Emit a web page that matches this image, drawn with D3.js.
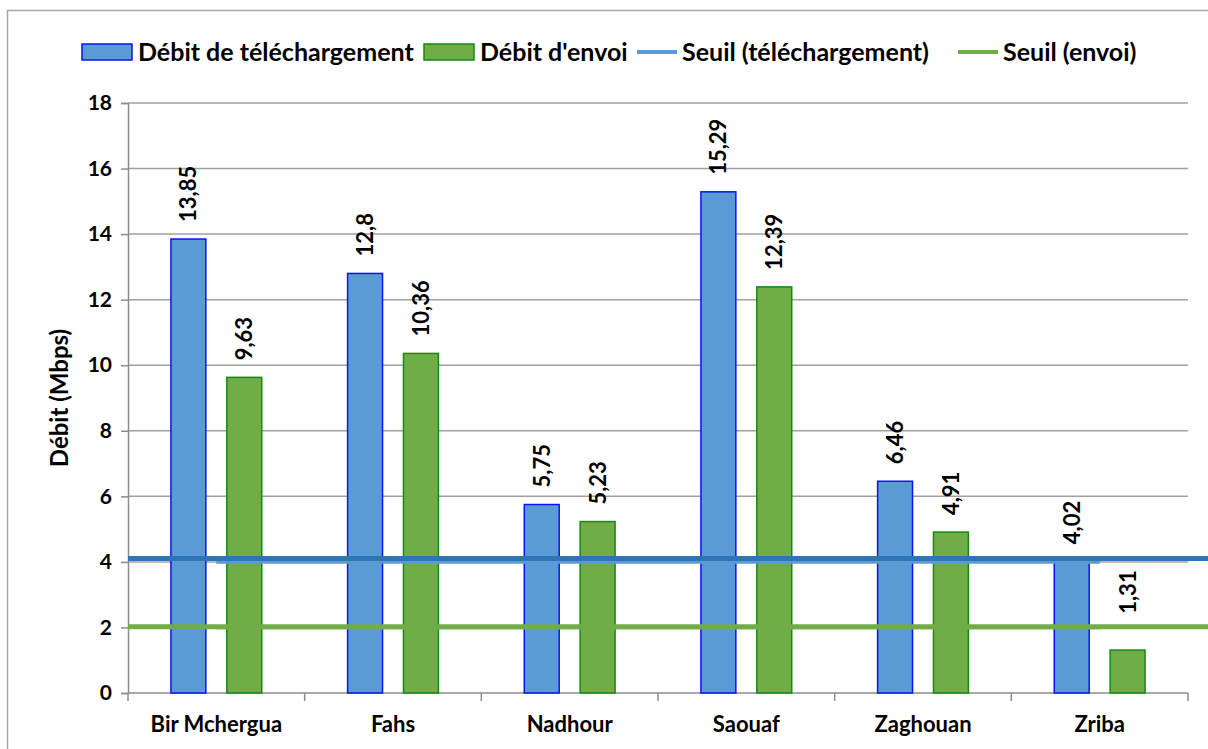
<!DOCTYPE html>
<meta charset="utf-8">
<script src="https://d3js.org/d3.v7.min.js"></script>
<style>
body { margin: 0; background: #fff; }
text { font-family: Lato, "Open Sans", sans-serif; font-weight: bold; fill: #000; }
</style>
<body>
<div id="chart"></div>
<script>
var sites = ["Bir Mchergua", "Fahs", "Nadhour", "Saouaf", "Zaghouan", "Zriba"]
var download = [13.85, 12.8, 5.75, 15.29, 6.46, 4.02]
var upload = [9.63, 10.36, 5.23, 12.39, 4.91, 1.31]
var seuilDl = [4, 4, 4, 4, 4, 4]
var seuilUp = [2, 2, 2, 2, 2, 2]
// the two bold threshold bars drawn over the chart, full width
var seuilOverlay = [4.1, 2.02]
var yTicks = [0, 2, 4, 6, 8, 10, 12, 14, 16, 18]
var legendLabels = ["Débit de téléchargement", "Débit d'envoi", "Seuil (téléchargement)", "Seuil (envoi)"]

var W = 1208, H = 749
var plotL = 128, plotR = 1188, plotT = 103, plotB = 693

var blue = "#5B9BD5", blueEdge = "#0A14F0", green = "#70AD47", greenEdge = "#138A13"
var darkBlue = "#2E75B6"

var svg = d3.select("#chart").append("svg")
  .attr("width", W)
  .attr("height", H)

// chart frame
svg.append("rect")
  .attr("x", 7.5).attr("y", 10.5)
  .attr("width", 1230).attr("height", 760)
  .attr("fill", "none")
  .attr("stroke", "#a6a6a6")
  .attr("stroke-width", 1.5)

var x = d3.scaleBand().domain(sites).range([plotL, plotR])
var xSub = d3.scaleBand().domain(["dl", "ul"]).range([0, x.bandwidth()])
  .paddingInner(0.375).paddingOuter(0.768)
var y = d3.scaleLinear().domain([0, 18]).range([plotB, plotT])

// gridlines
svg.append("g")
  .selectAll("line")
  .data(yTicks.filter(function(d){return d > 0}))
  .enter().append("line")
  .attr("x1", plotL).attr("x2", plotR)
  .attr("y1", function(d){return y(d)}).attr("y2", function(d){return y(d)})
  .attr("stroke", "#a0a0a0")
  .attr("stroke-width", 1.5)

// y axis
var yAxis = d3.axisLeft(y).tickValues(yTicks).tickSize(7).tickPadding(9)
var yG = svg.append("g")
  .attr("transform", "translate(" + plotL + ",0)")
  .call(yAxis)
yG.select(".domain").attr("stroke", "#8c8c8c").attr("stroke-width", 1.5)
yG.selectAll(".tick line").attr("stroke", "#8c8c8c").attr("stroke-width", 1.5)
yG.selectAll("text").style("font-size", "21px").style("font-weight", "bold").attr("fill", "#000")
  .style("font-family", "Lato, sans-serif")

// x axis
var xG = svg.append("g")
  .attr("transform", "translate(0," + plotB + ")")
xG.append("line")
  .attr("x1", plotL).attr("x2", plotR)
  .attr("stroke", "#8c8c8c").attr("stroke-width", 1.5)
xG.selectAll(".xt")
  .data(sites.concat(["end"]))
  .enter().append("line")
  .attr("x1", function(d, i){return plotL + i * x.step()})
  .attr("x2", function(d, i){return plotL + i * x.step()})
  .attr("y1", 0).attr("y2", 8)
  .attr("stroke", "#8c8c8c").attr("stroke-width", 1.5)
xG.selectAll(".xl")
  .data(sites)
  .enter().append("text")
  .attr("x", function(d){return x(d) + x.bandwidth() / 2})
  .attr("y", 39)
  .attr("text-anchor", "middle")
  .style("font-size", "22px")
  .text(function(d){return d})

// y title
svg.append("text")
  .attr("transform", "translate(68," + ((plotT + plotB) / 2) + ") rotate(-90)")
  .attr("text-anchor", "middle")
  .style("font-size", "24px")
  .text("Débit (Mbps)")

// bars
var rows = sites.map(function(s, i){
  return {site: s, dl: download[i], ul: upload[i]}
})
var groups = svg.append("g").selectAll("g")
  .data(rows)
  .enter().append("g")
  .attr("transform", function(d){return "translate(" + x(d.site) + ",0)"})

groups.append("rect")
  .attr("x", xSub("dl"))
  .attr("width", xSub.bandwidth())
  .attr("y", function(d){return y(d.dl)})
  .attr("height", function(d){return plotB - y(d.dl)})
  .attr("fill", blue).attr("stroke", blueEdge).attr("stroke-width", 1.5)

groups.append("rect")
  .attr("x", xSub("ul"))
  .attr("width", xSub.bandwidth())
  .attr("y", function(d){return y(d.ul)})
  .attr("height", function(d){return plotB - y(d.ul)})
  .attr("fill", green).attr("stroke", greenEdge).attr("stroke-width", 1.5)

function fmt(v){ return String(v).replace(".", ",") }

// label end sits 17px above the bar, but is lifted above the green threshold line if it would cross it
function labelBase(v){
  var b = y(v) - 17
  var lineY = y(seuilOverlay[1])
  if (b > lineY - 50 && b < lineY + 50) b = Math.min(b, lineY - 13)
  return b
}

groups.append("text")
  .attr("transform", function(d){
    return "translate(" + (xSub("dl") + xSub.bandwidth() / 2 + 8) + "," + (y(d.dl) - 17) + ") rotate(-90)"})
  .style("font-size", "22px")
  .text(function(d){return fmt(d.dl)})

groups.append("text")
  .attr("transform", function(d){
    return "translate(" + (xSub("ul") + xSub.bandwidth() / 2 + 8) + "," + labelBase(d.ul) + ") rotate(-90)"})
  .style("font-size", "22px")
  .text(function(d){return fmt(d.ul)})

// threshold series (center to center)
var line = d3.line()
  .x(function(d, i){return x(sites[i]) + x.bandwidth() / 2})
  .y(function(d){return y(d)})
svg.append("path").datum(seuilDl).attr("d", line)
  .attr("fill", "none").attr("stroke", blue).attr("stroke-width", 3.5)
svg.append("path").datum(seuilUp).attr("d", line)
  .attr("fill", "none").attr("stroke", "#7cb85a").attr("stroke-width", 3.5)

// overlay bold lines across the whole width
svg.selectAll(".ov")
  .data(seuilOverlay)
  .enter().append("line")
  .attr("x1", plotL).attr("x2", W)
  .attr("y1", function(d){return y(d)}).attr("y2", function(d){return y(d)})
  .attr("stroke", function(d, i){return i === 0 ? darkBlue : green})
  .attr("stroke-width", 5)

// legend
var legX = [82, 424, 637, 958]
var leg = svg.append("g")
leg.selectAll(".lg")
  .data(legendLabels)
  .enter().append("g")
  .each(function(d, i){
    var g = d3.select(this)
    if (i < 2) {
      g.append("rect")
        .attr("x", legX[i]).attr("y", 44)
        .attr("width", 50).attr("height", 16)
        .attr("fill", i === 0 ? blue : green)
        .attr("stroke", i === 0 ? blueEdge : greenEdge)
        .attr("stroke-width", 1.5)
      g.append("text").attr("x", legX[i] + 56).attr("y", 61)
        .style("font-size", "25px").text(d)
    } else {
      g.append("line")
        .attr("x1", legX[i]).attr("x2", legX[i] + 40)
        .attr("y1", 52).attr("y2", 52)
        .attr("stroke", i === 2 ? blue : green)
        .attr("stroke-width", 4)
      g.append("text").attr("x", legX[i] + 45).attr("y", 61)
        .style("font-size", "25px").text(d)
    }
  })
</script>
</body>
